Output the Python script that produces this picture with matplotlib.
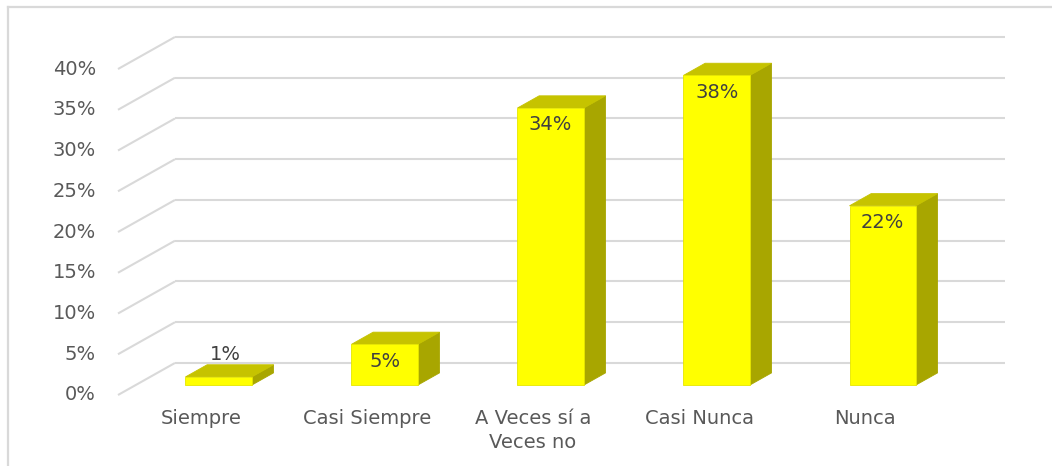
import matplotlib
matplotlib.use("Agg")
import matplotlib.pyplot as plt
from matplotlib.patches import Polygon
from matplotlib.lines import Line2D

# Survey answers and their shares (percent)
categories = ["Siempre", "Casi Siempre", "A Veces sí a\nVeces no", "Casi Nunca", "Nunca"]
values = [1, 5, 34, 38, 22]
tick_values = [0, 5, 10, 15, 20, 25, 30, 35, 40]
tick_labels = [f"{t}%" for t in tick_values]

# Oblique 3-D look: depth shift of the back wall in data units
DX = 0.343      # category units
DY = 3.93       # percent units
BAR_W = 0.40
D_FRONT, D_BACK = 0.31, 0.69   # bar depth inside the box (0 = front, 1 = back)

FRONT = "#ffff00"
TOP = "#c6c300"
SIDE = "#a8a600"
GRID = "#d9d9d9"
TEXT = "#595959"
LABEL = "#404040"
FS = 14

fig = plt.figure(figsize=(10.52, 4.66), dpi=100)
fig.patch.set_facecolor("white")

# outer chart frame (top and left edges)
fig.add_artist(Line2D([8 / 1052, 8 / 1052], [0, 1 - 7 / 466], color=GRID, lw=1.6,
                      transform=fig.transFigure))
fig.add_artist(Line2D([8 / 1052, 1], [1 - 7 / 466, 1 - 7 / 466], color=GRID, lw=1.6,
                      transform=fig.transFigure))

ax = fig.add_axes([118 / 1052, 71 / 466, 887 / 1052, 358 / 466])
ax.set_xlim(-0.5, len(categories) - 0.5 + DX)
ax.set_ylim(0, tick_values[-1] + DY)
ax.axis("off")

x_left = -0.5
x_right = len(categories) - 0.5

# gridlines: diagonal on the side wall, horizontal on the back wall
for t, lab in zip(tick_values, tick_labels):
    ax.plot([x_left, x_left + DX], [t, t + DY], color=GRID, lw=1.5, zorder=1,
            solid_capstyle="butt", clip_on=False)
    ax.plot([x_left + DX, x_right + DX], [t + DY, t + DY], color=GRID, lw=1.5, zorder=1,
            solid_capstyle="butt", clip_on=False)
    ax.annotate(lab, (x_left, t), xytext=(-22, 0), textcoords="offset pixels",
                ha="right", va="center", fontsize=FS, color=TEXT, annotation_clip=False)

# 3-D bars
for i, v in enumerate(values):
    xl = i - BAR_W / 2
    xr = i + BAR_W / 2
    fx, fy = D_FRONT * DX, D_FRONT * DY
    bx, by = D_BACK * DX, D_BACK * DY
    side = Polygon([(xr + fx, fy), (xr + bx, by), (xr + bx, v + by), (xr + fx, v + fy)],
                   closed=True, facecolor=SIDE, edgecolor=SIDE, lw=0.6, zorder=3)
    top = Polygon([(xl + fx, v + fy), (xr + fx, v + fy), (xr + bx, v + by), (xl + bx, v + by)],
                  closed=True, facecolor=TOP, edgecolor=TOP, lw=0.6, zorder=3)
    front = Polygon([(xl + fx, fy), (xr + fx, fy), (xr + fx, v + fy), (xl + fx, v + fy)],
                    closed=True, facecolor=FRONT, edgecolor="#e6e600", lw=0.6, zorder=4)
    for p in (side, top, front):
        ax.add_patch(p)

    if v < 3:
        ax.annotate(f"{v}%", (i + fx, v + by), xytext=(7, 10), textcoords="offset pixels",
                    ha="center", va="center", fontsize=FS, color=LABEL, zorder=5)
    else:
        ax.annotate(f"{v}%", (i + fx, v + fy), xytext=(0, -17), textcoords="offset pixels",
                    ha="center", va="center", fontsize=FS, color=LABEL, zorder=5)

# category labels under the front edge
for i, c in enumerate(categories):
    ax.annotate(c, (i, 0), xytext=(0, -14), textcoords="offset pixels",
                ha="center", va="top", fontsize=FS, color=TEXT, annotation_clip=False,
                linespacing=1.3)

fig.savefig("out.png", dpi=100, facecolor="white")
